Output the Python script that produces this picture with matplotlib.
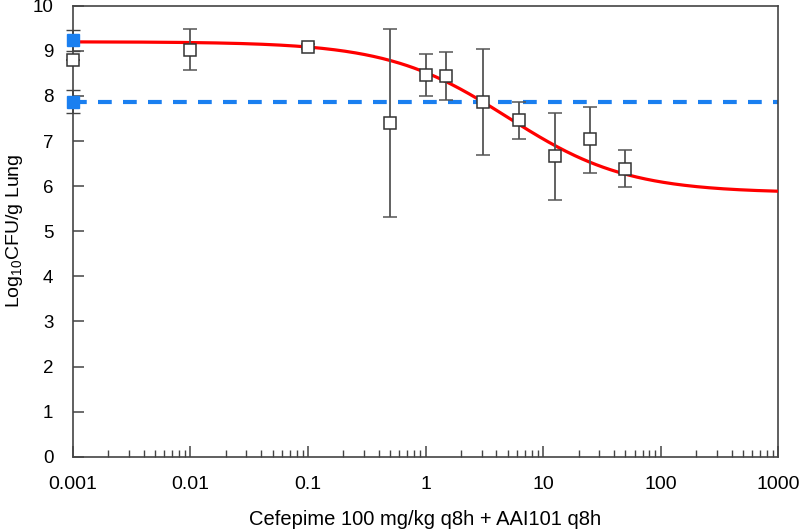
import numpy as np
import matplotlib
matplotlib.use("Agg")
import matplotlib.pyplot as plt
from matplotlib.ticker import LogLocator, NullFormatter, FixedLocator

plt.rcParams['font.family'] = ['Liberation Sans', 'DejaVu Sans']
plt.rcParams['mathtext.fontset'] = 'custom'
plt.rcParams['mathtext.rm'] = 'Liberation Sans'

# Observed data (open squares)
dose = [0.001, 0.01, 0.1, 0.5, 1.0, 1.5, 3.1, 6.2, 12.5, 25, 50]
cfu = [8.80, 9.02, 9.09, 7.40, 8.47, 8.44, 7.86, 7.47, 6.67, 7.04, 6.39]
err_hi = [0.0, 0.47, 0.05, 2.08, 0.46, 0.53, 1.19, 0.39, 0.96, 0.71, 0.40]
err_lo = [0.0, 0.44, 0.05, 2.09, 0.47, 0.54, 1.18, 0.42, 0.97, 0.74, 0.41]

# Controls (blue filled squares)
ctrl_dose = [0.001, 0.001]
ctrl_cfu = [9.23, 7.87]
ctrl_err = [0.24, 0.25]

# Stasis reference line
stasis_level = 7.87

# Fitted sigmoid Emax model parameters
E0 = 9.20
Emax = 3.35
EC50 = 5.0
hill = 0.85

xticks = [0.001, 0.01, 0.1, 1, 10, 100, 1000]
xticklabels = ['0.001', '0.01', '0.1', '1', '10', '100', '1000']
yticks = list(range(0, 11))

fig = plt.figure(figsize=(8, 5.32), dpi=100)
ax = fig.add_axes([0.0909, 0.1415, 0.8820, 0.8478])

blue = '#1a7ff0'
xs = np.logspace(np.log10(xticks[0]), np.log10(xticks[-1]), 400)
model = E0 - Emax * xs**hill / (EC50**hill + xs**hill)

ax.plot([xticks[0], xticks[-1]], [stasis_level, stasis_level], color=blue,
        lw=3.0, dashes=(3.3, 2.7), zorder=2)
ax.plot(xs, model, color='#ff0000', lw=2.3, zorder=3)

ax.errorbar(dose, cfu, yerr=[err_lo, err_hi], fmt='s', ms=9, mfc='white',
            mec='#333333', mew=1.1, ecolor='#555555', elinewidth=1.3,
            capsize=5, capthick=1.3, zorder=4, clip_on=False)
ax.errorbar(ctrl_dose, ctrl_cfu, yerr=ctrl_err, fmt='s', ms=9, mfc=blue,
            mec=blue, mew=1, ecolor='#444444', elinewidth=1.3, capsize=5,
            capthick=1.3, zorder=5, clip_on=False)

ax.set_xscale('log')
ax.set_xlim(xticks[0], xticks[-1])
ax.set_ylim(yticks[0], yticks[-1])
ax.xaxis.set_major_locator(FixedLocator(xticks))
ax.set_xticklabels(xticklabels)
ax.xaxis.set_minor_locator(LogLocator(base=10, subs=np.arange(2, 10)))
ax.xaxis.set_minor_formatter(NullFormatter())
ax.set_yticks(yticks)

for s in ax.spines.values():
    s.set_color('#444444')
    s.set_linewidth(1.2)

ax.tick_params(axis='both', which='major', direction='in', length=8,
               width=1.1, color='#444444', labelsize=14, top=False, right=False)
ax.tick_params(axis='x', which='major', pad=14)
ax.tick_params(axis='y', which='major', pad=14, labelsize=13.5)
ax.tick_params(axis='x', which='minor', direction='in', length=5, width=1.0,
               color='#444444', top=False)

ax.set_xlabel('Cefepime 100 mg/kg q8h + AAI101 q8h', fontsize=14.5, labelpad=12)
ax.set_ylabel(r'Log$_\mathregular{10}$CFU/g Lung', fontsize=14, labelpad=5)

fig.savefig('out.png', dpi=100)
